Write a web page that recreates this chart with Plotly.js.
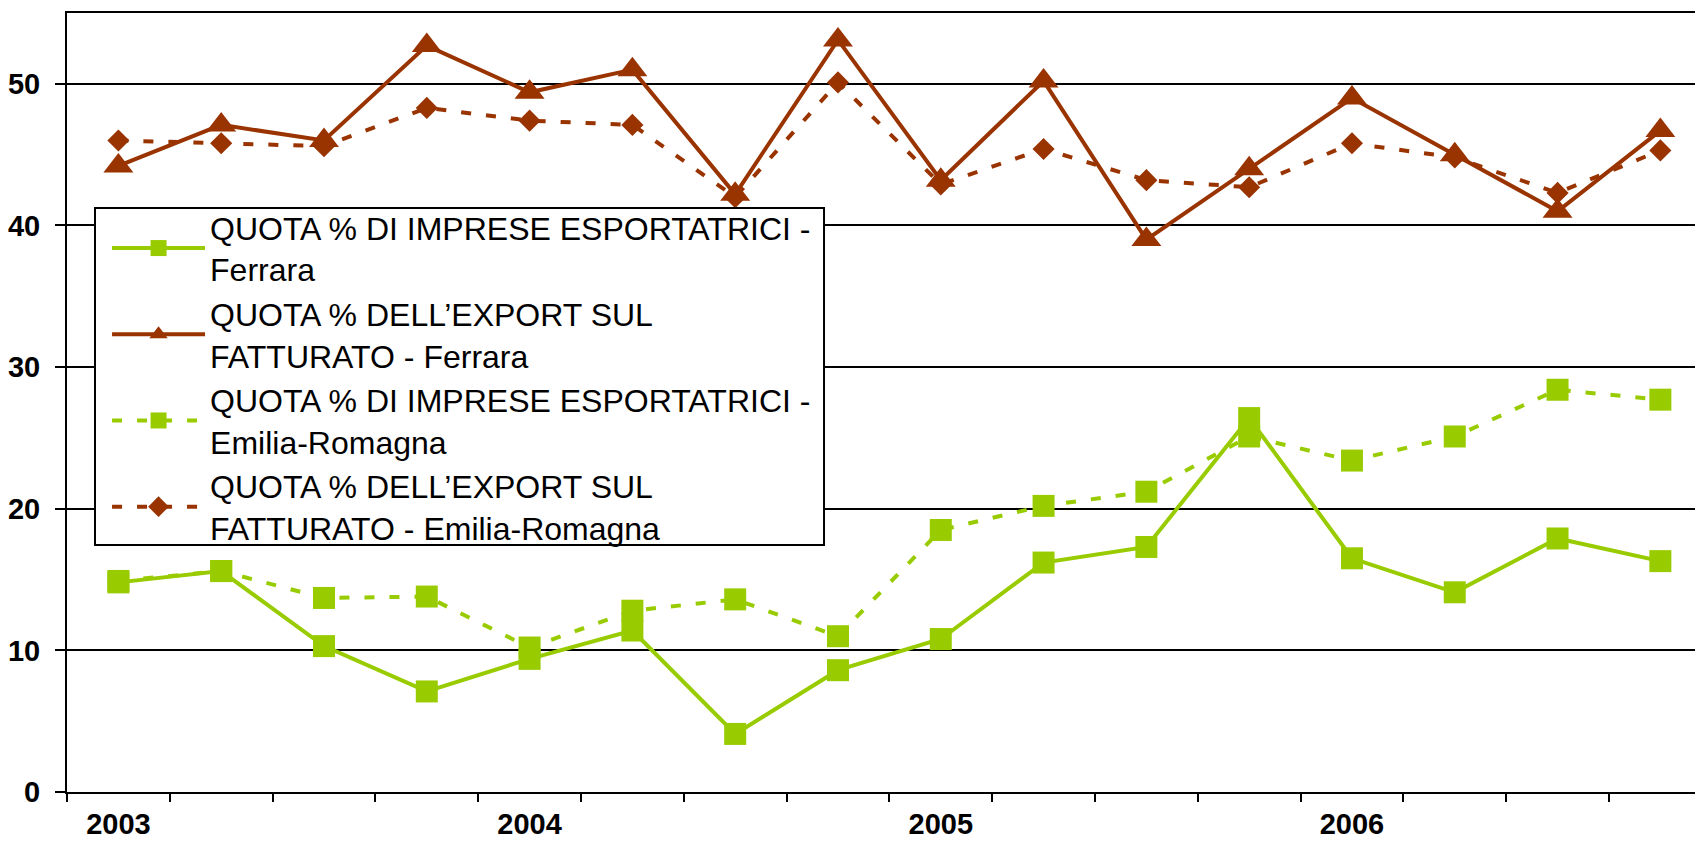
<!DOCTYPE html>
<html><head><meta charset="utf-8">
<script src="https://cdn.plot.ly/plotly-3.0.1.min.js"></script>
<style>html,body{margin:0;padding:0;background:#fff}#chart{width:1695px;height:842px}</style>
</head><body><div id="chart"></div>
<script>
const quarters = ['2003 I','2003 II','2003 III','2003 IV','2004 I','2004 II','2004 III','2004 IV',
                  '2005 I','2005 II','2005 III','2005 IV','2006 I','2006 II','2006 III','2006 IV'];
const yearTickQuarters = ['2003 I','2004 I','2005 I','2006 I'];
const yearLabels = ['2003','2004','2005','2006'];
const yTicks = [0,10,20,30,40,50];

const seriesNames = [
  'QUOTA % DI IMPRESE ESPORTATRICI -<br>Ferrara',
  'QUOTA % DELL\u2019EXPORT SUL<br>FATTURATO - Ferrara',
  'QUOTA % DI IMPRESE ESPORTATRICI -<br>Emilia-Romagna',
  'QUOTA % DELL\u2019EXPORT SUL<br>FATTURATO - Emilia-Romagna'
];
const impreseFerrara = [14.8,15.6,10.3,7.1,9.4,11.4,4.1,8.6,10.8,16.2,17.3,26.4,16.5,14.1,17.9,16.3];
const exportFerrara  = [44.2,47.1,46.0,52.7,49.4,51.0,42.2,53.1,43.2,50.2,39.0,44.0,49.0,45.0,41.0,46.7];
const impreseER      = [14.9,15.6,13.7,13.8,10.2,12.8,13.6,11.0,18.5,20.2,21.2,25.1,23.4,25.1,28.4,27.7];
const exportER       = [46.0,45.8,45.6,48.3,47.4,47.1,42.0,50.1,42.9,45.4,43.2,42.7,45.8,44.8,42.3,45.3];

const GREEN = '#99CC00', BROWN = '#993300';
const xRange = [-0.5, 15.337];
const boundaries = quarters.map((q, i) => i - 0.5);

const traces = [
  {x: quarters, y: impreseFerrara, name: seriesNames[0], mode: 'lines+markers',
   line: {color: GREEN, width: 4}, marker: {symbol: 'square', size: 22, color: GREEN}},
  {x: quarters, y: exportFerrara, name: seriesNames[1], mode: 'lines+markers',
   line: {color: BROWN, width: 4}, marker: {symbol: 'triangle-up', size: 26, color: BROWN}},
  {x: quarters, y: impreseER, name: seriesNames[2], mode: 'lines+markers',
   line: {color: GREEN, width: 4, dash: '10px,15px'}, marker: {symbol: 'square', size: 22, color: GREEN}},
  {x: quarters, y: exportER, name: seriesNames[3], mode: 'lines+markers',
   line: {color: BROWN, width: 4, dash: '10px,15px'}, marker: {symbol: 'diamond', size: 17, color: BROWN}},
  {x: [0], y: [null], xaxis: 'x2', yaxis: 'y', mode: 'lines', showlegend: false, hoverinfo: 'skip'}
];

const layout = {
  width: 1695, height: 842,
  margin: {l: 67, r: 0, t: 13, b: 50, pad: 0},
  paper_bgcolor: '#fff', plot_bgcolor: '#fff',
  font: {family: '"Liberation Sans", Arial, sans-serif', color: '#000'},
  showlegend: true,
  legend: {x: 0.0246, y: 0.76, xanchor: 'left', yanchor: 'top', bgcolor: 'rgba(0,0,0,0)',
           borderwidth: 0, font: {size: 32, color: '#000'}, itemwidth: 93, tracegroupgap: 0},
  shapes: [{type: 'rect', xref: 'paper', yref: 'paper', x0: 0.0172, x1: 0.465, y0: 0.3171, y1: 0.7497,
            fillcolor: '#fff', line: {color: '#000', width: 2}, layer: 'above'}],
  xaxis: {type: 'category', categoryorder: 'array', categoryarray: quarters, range: xRange,
          tickmode: 'array', tickvals: yearTickQuarters, ticktext: yearLabels, ticks: '',
          showgrid: false, zeroline: false, showline: true, linecolor: '#000', linewidth: 2,
          mirror: true, tickfont: {size: 29, weight: 'bold', color: '#000'}, ticklabelstandoff: 5},
  xaxis2: {type: 'linear', overlaying: 'x', anchor: 'y', range: xRange, tickmode: 'array',
           tickvals: boundaries, ticks: 'outside', ticklen: 9, tickwidth: 2, tickcolor: '#000',
           showticklabels: false, showgrid: false, zeroline: false, showline: false},
  yaxis: {range: [0, 55], tickmode: 'array', tickvals: yTicks, ticks: 'outside', ticklen: 10,
          tickwidth: 2, tickcolor: '#000', showline: true, linewidth: 2, linecolor: '#000',
          showgrid: true, gridcolor: '#000', gridwidth: 2, zeroline: false, ticklabelstandoff: 9,
          tickfont: {size: 29, weight: 'bold', color: '#000'}}
};

Plotly.newPlot('chart', traces, layout, {displayModeBar: false, staticPlot: true});
</script>
</body></html>
